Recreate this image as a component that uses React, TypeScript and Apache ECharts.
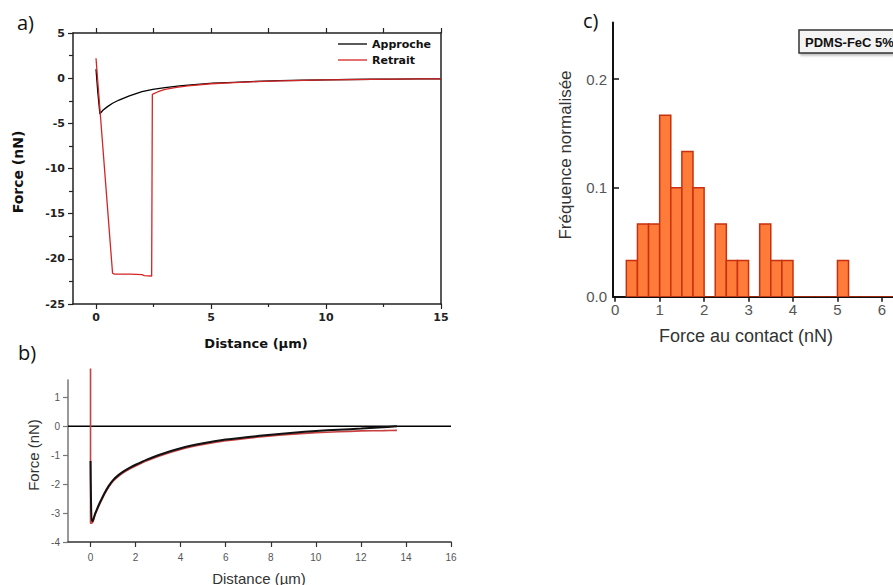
import React, { useEffect, useRef } from "react";
import * as echarts from "echarts";

// ---------- Panel a) : approach / retract curves ----------
const approcheA: number[][] = [
  [0, 1.0], [0.08, -1.6], [0.17, -3.95], [0.3, -3.55], [0.5, -3.15], [0.72, -2.78],
  [1.0, -2.42], [1.45, -1.95], [2.0, -1.5], [2.47, -1.23], [3.0, -1.05], [3.63, -0.85],
  [4.0, -0.76], [5.08, -0.56], [6.0, -0.46], [7.26, -0.33], [8.0, -0.28], [9.0, -0.23],
  [10.0, -0.19], [11.0, -0.15], [12.0, -0.12], [13.0, -0.1], [14.0, -0.08], [15.0, -0.07],
];
const retraitA: number[][] = [
  [0, 2.2], [0.72, -21.6], [0.8, -21.7], [1.5, -21.7], [2.0, -21.75], [2.1, -21.85],
  [2.42, -21.9], [2.45, -1.8], [2.7, -1.5], [3.0, -1.25], [3.5, -1.02], [4.0, -0.86],
  [5.0, -0.62], [6.0, -0.49], [7.0, -0.38], [8.0, -0.3], [9.0, -0.25], [10.0, -0.2],
  [11.0, -0.16], [12.0, -0.13], [13.0, -0.1], [14.0, -0.08], [15.0, -0.07],
];
const xTicksA = [0, 5, 10, 15];
const xMinorA = [2.5, 7.5, 12.5];
const xTopTicksA = [0, 2.5, 5, 7.5, 10, 12.5, 15];
const legendA = ["Approche", "Retrait"];
const colorsA = ["#000000", "#D42525"];

// ---------- Panel b) : fitted curves ----------
const approcheB: number[][] = [
  [0, -1.2], [0.02, -2.5], [0.05, -3.28], [0.1, -3.27], [0.2, -3.03], [0.3, -2.84],
  [0.4, -2.66], [0.5, -2.5], [0.6, -2.34], [0.8, -2.07], [1.0, -1.86], [1.25, -1.68],
  [1.5, -1.54], [1.75, -1.43], [2.0, -1.33], [2.5, -1.15], [3.0, -1.0], [4.0, -0.76],
  [5.0, -0.59], [6.0, -0.46], [7.0, -0.37], [8.0, -0.29], [9.0, -0.22], [10.0, -0.16],
  [11.0, -0.12], [12.0, -0.08], [12.8, -0.04], [13.6, 0.0],
];
const retraitB: number[][] = [
  [0, 2.0], [0, -3.35], [0.05, -3.35], [0.1, -3.31], [0.2, -3.07], [0.3, -2.88],
  [0.4, -2.7], [0.5, -2.54], [0.6, -2.38], [0.8, -2.11], [1.0, -1.9], [1.25, -1.72],
  [1.5, -1.58], [1.75, -1.47], [2.0, -1.37], [2.5, -1.19], [3.0, -1.04], [4.0, -0.8],
  [5.0, -0.63], [6.0, -0.5], [7.0, -0.41], [8.0, -0.33], [9.0, -0.27], [10.0, -0.22],
  [11.0, -0.19], [12.0, -0.16], [13.0, -0.15], [13.6, -0.14],
];
const zeroLineB: number[][] = [[-1, 0], [16, 0]];
const xTicksB = [0, 2, 4, 6, 8, 10, 12, 14, 16];
const yTicksB = [-4, -3, -2, -1, 0, 1];

// ---------- Panel c) : histogram ----------
const histEdges = [
  0.25, 0.5, 0.75, 1.0, 1.25, 1.5, 1.75, 2.0, 2.25, 2.5, 2.75, 3.0, 3.25,
  3.5, 3.75, 4.0, 4.25, 4.5, 4.75, 5.0, 5.25, 5.5, 5.75, 6.0, 6.25,
];
const histFreq = [
  0.0333, 0.0667, 0.0667, 0.1667, 0.1, 0.1333, 0.1, 0, 0.0667, 0.0333, 0.0333, 0,
  0.0667, 0.0333, 0.0333, 0, 0, 0, 0, 0.0333, 0, 0, 0, 0,
];
const xTicksC = [0, 1, 2, 3, 4, 5, 6];
const yTicksC = [0, 0.1, 0.2];

const FA = "'DejaVu Sans', Verdana, sans-serif";
const FB = "'Liberation Sans', Arial, sans-serif";

export default function App() {
  const ref = useRef<HTMLDivElement>(null);
  useEffect(() => {
    if (!ref.current) return;
    const chart = echarts.init(ref.current, null, { renderer: "svg" });
    const histData = histFreq.map((f, i) => [histEdges[i], histEdges[i + 1], f]);

    const legendGraphics: any[] = [];
    legendA.forEach((name, i) => {
      const y = 44 + i * 16;
      legendGraphics.push({
        type: "line", shape: { x1: 338, y1: y, x2: 367, y2: y },
        style: { stroke: colorsA[i], lineWidth: 1.3 },
      });
      legendGraphics.push({
        type: "text", x: 372, y,
        style: { text: name, font: `bold 11px ${FA}`, fill: "#111", verticalAlign: "middle" },
      });
    });

    const option: any = {
      animation: false,
      backgroundColor: "#ffffff",
      grid: [
        { left: 73, top: 33, width: 368, height: 271 },
        { left: 68, top: 380, width: 383, height: 162 },
        { left: 613, top: 22.4, width: 283.5, height: 274.3 },
      ],
      xAxis: [
        {
          gridIndex: 0, type: "value", min: -1, max: 15, position: "bottom",
          axisLine: { onZero: false, lineStyle: { color: "#222", width: 1.5 } },
          axisTick: { customValues: xTicksA, length: 5, lineStyle: { color: "#222", width: 1.2 } },
          axisLabel: { customValues: xTicksA, margin: 8, fontFamily: FA, fontWeight: "bold", fontSize: 11, color: "#222" },
          splitLine: { show: false },
        },
        {
          gridIndex: 0, type: "value", min: -1, max: 15, position: "top",
          axisLine: { onZero: false, lineStyle: { color: "#222", width: 1.5 } },
          axisTick: { customValues: xTopTicksA, length: 5, lineStyle: { color: "#222", width: 1.2 } },
          axisLabel: { show: false },
          splitLine: { show: false },
        },
        {
          gridIndex: 1, type: "value", min: -1, max: 16,
          axisLine: { onZero: false, lineStyle: { color: "#333", width: 1.5 } },
          axisTick: { customValues: xTicksB, length: 5, lineStyle: { color: "#333", width: 1.2 } },
          axisLabel: { customValues: xTicksB, margin: 10, fontFamily: FB, fontSize: 10, color: "#555" },
          splitLine: { show: false },
        },
        {
          gridIndex: 2, type: "value", min: -0.05, max: 6.25,
          axisLine: { onZero: false, lineStyle: { color: "#111", width: 2 } },
          axisTick: { customValues: xTicksC, length: 5, lineStyle: { color: "#111", width: 1.5 } },
          axisLabel: { customValues: xTicksC, margin: 5, fontFamily: FB, fontSize: 15, color: "#555" },
          splitLine: { show: false },
        },
        {
          gridIndex: 0, type: "value", min: -1, max: 15, position: "bottom",
          axisLine: { show: false, onZero: false },
          axisTick: { customValues: xMinorA, length: 3, lineStyle: { color: "#222", width: 1.2 } },
          axisLabel: { show: false },
          splitLine: { show: false },
        },
      ],
      yAxis: [
        {
          gridIndex: 0, type: "value", min: -25, max: 5, interval: 5, position: "left",
          axisLine: { show: true, onZero: false, lineStyle: { color: "#222", width: 1.5 } },
          axisTick: { show: true, length: 5, lineStyle: { color: "#222", width: 1.2 } },
          minorTick: { show: true, splitNumber: 2, length: 4, lineStyle: { color: "#222", width: 1.2 } },
          axisLabel: { margin: 8, fontFamily: FA, fontWeight: "bold", fontSize: 11, color: "#222" },
          splitLine: { show: false },
        },
        {
          gridIndex: 0, type: "value", min: -25, max: 5, interval: 5, position: "right",
          axisLine: { show: true, onZero: false, lineStyle: { color: "#222", width: 1.5 } },
          axisTick: { show: false },
          axisLabel: { show: false },
          splitLine: { show: false },
        },
        {
          gridIndex: 1, type: "value", min: -4, max: 1.6,
          axisLine: { show: true, onZero: false, lineStyle: { color: "#777", width: 1.5 } },
          axisTick: { show: true, customValues: yTicksB, length: 5, lineStyle: { color: "#777", width: 1.2 } },
          axisLabel: { customValues: yTicksB, margin: 8, fontFamily: FB, fontSize: 10, color: "#555" },
          splitLine: { show: false },
        },
        {
          gridIndex: 2, type: "value", min: 0, max: 0.252,
          axisLine: { show: true, onZero: false, lineStyle: { color: "#111", width: 2 } },
          axisTick: { show: true, inside: true, customValues: yTicksC, length: 6, lineStyle: { color: "#111", width: 1.5 } },
          axisLabel: {
            customValues: yTicksC, margin: 6, fontFamily: FB, fontSize: 15, color: "#555",
            formatter: (v: number) => v.toFixed(1),
          },
          splitLine: { show: false },
        },
      ],
      series: [
        {
          name: legendA[0], type: "line", xAxisIndex: 0, yAxisIndex: 0, data: approcheA,
          symbol: "none", lineStyle: { color: colorsA[0], width: 1.3 },
        },
        {
          name: legendA[1], type: "line", xAxisIndex: 0, yAxisIndex: 0, data: retraitA,
          symbol: "none", lineStyle: { color: colorsA[1], width: 1.3 },
        },
        {
          name: "zero-b", type: "line", xAxisIndex: 2, yAxisIndex: 2, data: zeroLineB,
          symbol: "none", lineStyle: { color: "#000", width: 1.6 },
        },
        {
          name: "retrait-b", type: "line", xAxisIndex: 2, yAxisIndex: 2, data: retraitB,
          symbol: "none", clip: false, smooth: 0.2, lineStyle: { color: "#C84040", width: 1.6 },
        },
        {
          name: "approche-b", type: "line", xAxisIndex: 2, yAxisIndex: 2, data: approcheB,
          symbol: "none", clip: false, smooth: 0.2, lineStyle: { color: "#111", width: 2 },
        },
        {
          name: "histogramme", type: "custom", xAxisIndex: 3, yAxisIndex: 3, data: histData,
          clip: true,
          encode: { x: [0, 1], y: 2 },
          renderItem: (_params: any, api: any) => {
            const p0 = api.coord([api.value(0), api.value(2)]);
            const p1 = api.coord([api.value(1), 0]);
            return {
              type: "rect",
              shape: { x: p0[0], y: p0[1], width: p1[0] - p0[0], height: p1[1] - p0[1] },
              style: { fill: "#FF7B3A", stroke: "#C8300F", lineWidth: 1.5 },
            };
          },
        },
      ],
      graphic: [
        ...legendGraphics,
        { type: "text", x: 17, y: 22, style: { text: "a)", font: "20px 'Open Sans', sans-serif", fill: "#111", verticalAlign: "middle" } },
        { type: "text", x: 18, y: 352, style: { text: "b)", font: "20px 'Open Sans', sans-serif", fill: "#111", verticalAlign: "middle" } },
        { type: "text", x: 583, y: 20, style: { text: "c)", font: "20px 'Open Sans', sans-serif", fill: "#111", verticalAlign: "middle" } },
        {
          type: "text", x: 18, y: 172, rotation: Math.PI / 2,
          style: { text: "Force (nN)", font: `bold 14px ${FA}`, fill: "#111", align: "center", verticalAlign: "middle" },
        },
        {
          type: "text", x: 256, y: 343,
          style: { text: "Distance (µm)", font: `bold 13px ${FA}`, fill: "#111", align: "center", verticalAlign: "middle" },
        },
        {
          type: "text", x: 33, y: 455, rotation: Math.PI / 2,
          style: { text: "Force (nN)", font: `15px ${FB}`, fill: "#333", align: "center", verticalAlign: "middle" },
        },
        {
          type: "text", x: 259, y: 578,
          style: { text: "Distance (µm)", font: `15px ${FB}`, fill: "#333", align: "center", verticalAlign: "middle" },
        },
        {
          type: "text", x: 565, y: 155, rotation: Math.PI / 2,
          style: { text: "Fréquence normalisée", font: `17px ${FB}`, fill: "#333", align: "center", verticalAlign: "middle" },
        },
        {
          type: "text", x: 746, y: 336,
          style: { text: "Force au contact (nN)", font: `18px ${FB}`, fill: "#333", align: "center", verticalAlign: "middle" },
        },
        {
          type: "rect", shape: { x: 799, y: 30, width: 130, height: 23 },
          style: { fill: "#f4f4f4", stroke: "#333", lineWidth: 1.5, shadowColor: "rgba(0,0,0,0.25)", shadowOffsetX: 2, shadowOffsetY: 2, shadowBlur: 2 },
        },
        {
          type: "text", x: 805, y: 42,
          style: { text: "PDMS-FeC 5%", font: `bold 13px ${FB}`, fill: "#111", verticalAlign: "middle" },
        },
      ],
    };
    chart.setOption(option);
    return () => chart.dispose();
  }, []);
  return (
    <div
      ref={ref}
      style={{ position: "absolute", left: 0, top: 0, width: 893, height: 585 }}
    />
  );
}
